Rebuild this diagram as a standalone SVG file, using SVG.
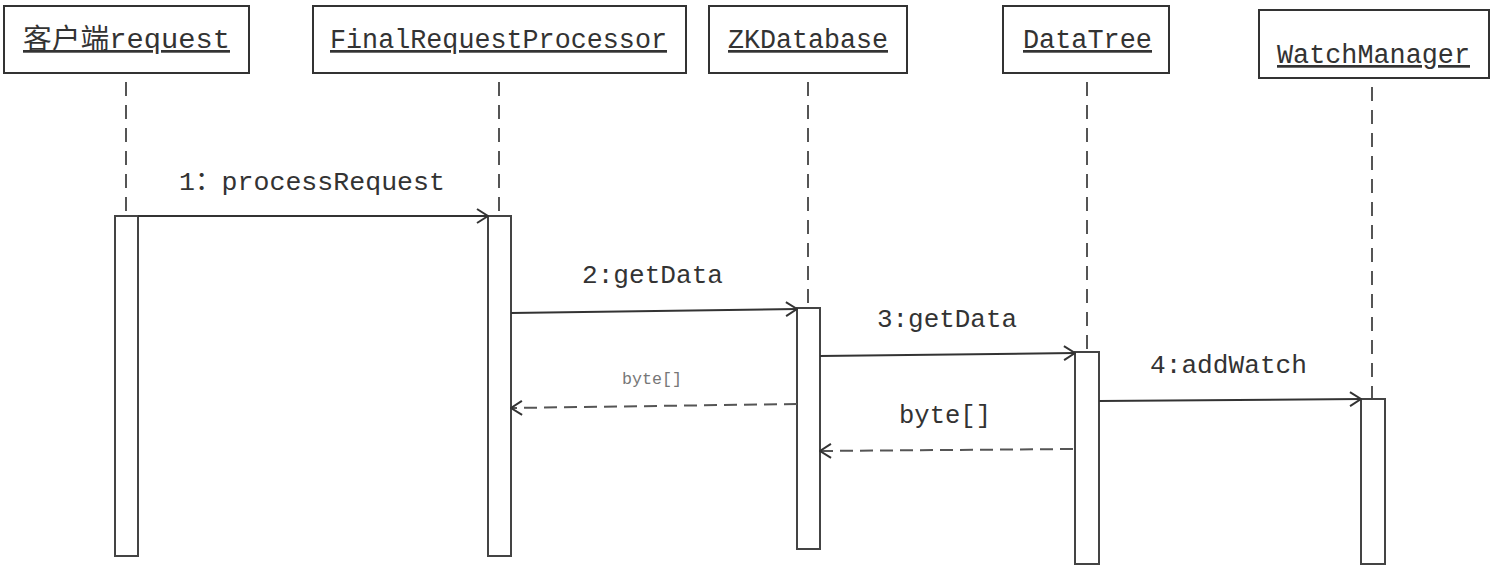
<svg xmlns="http://www.w3.org/2000/svg" width="1496" height="578" viewBox="0 0 1496 578">
<style>
  .box{fill:#fff;stroke:#333;stroke-width:2}
  .act{fill:#fff;stroke:#444;stroke-width:2}
  .life{stroke:#555;stroke-width:2;stroke-dasharray:14 9;stroke-dashoffset:14;fill:none}
  .lbl{font-family:"Liberation Mono","Noto Sans CJK SC",monospace;font-size:27px;fill:#333;text-decoration:underline}
  .msg{stroke:#333;stroke-width:2;fill:none;marker-end:url(#arr)}
  .ret{stroke:#555;stroke-width:2;fill:none;stroke-dasharray:13 7;marker-end:url(#arr)}
  .mt{font-family:"Liberation Mono","Noto Sans CJK SC",monospace;font-size:26px;fill:#333}
  .st{font-family:"Liberation Mono","Noto Sans CJK SC",monospace;font-size:16px;fill:#777}
</style>
<defs>
  <marker id="arr" markerUnits="userSpaceOnUse" viewBox="0 0 14 16" refX="13" refY="8" markerWidth="14" markerHeight="16" orient="auto">
    <path d="M2,1 L13,8 L2,15" fill="none" stroke="#333" stroke-width="2"/>
  </marker>
</defs>
<rect width="1496" height="578" fill="#fff"/>
<g id="node-client">
  <rect class="box" x="4" y="6" width="245" height="67"/>
  <text class="lbl" x="23" y="48" textLength="207" lengthAdjust="spacingAndGlyphs">客户端request</text>
  <line class="life" x1="126" y1="73" x2="126" y2="216"/>
  <rect class="act" x="115" y="216" width="23" height="340"/>
</g>
<g id="node-finalrequestprocessor">
  <rect class="box" x="313" y="6" width="373" height="67"/>
  <text class="lbl" x="330" y="48" textLength="337" lengthAdjust="spacingAndGlyphs">FinalRequestProcessor</text>
  <line class="life" x1="499" y1="73" x2="499" y2="216"/>
  <rect class="act" x="488" y="216" width="23" height="340"/>
</g>
<g id="node-zkdatabase">
  <rect class="box" x="709" y="6" width="198" height="67"/>
  <text class="lbl" x="728" y="48" textLength="160" lengthAdjust="spacingAndGlyphs">ZKDatabase</text>
  <line class="life" x1="808" y1="73" x2="808" y2="308"/>
  <rect class="act" x="797" y="308" width="23" height="241"/>
</g>
<g id="node-datatree">
  <rect class="box" x="1003" y="6" width="166" height="67"/>
  <text class="lbl" x="1023" y="48" textLength="129" lengthAdjust="spacingAndGlyphs">DataTree</text>
  <line class="life" x1="1087" y1="73" x2="1087" y2="352"/>
  <rect class="act" x="1075" y="352" width="24" height="212"/>
</g>
<g id="node-watchmanager">
  <rect class="box" x="1259" y="10" width="230" height="68"/>
  <text class="lbl" x="1277" y="63" textLength="193" lengthAdjust="spacingAndGlyphs">WatchManager</text>
  <line class="life" x1="1372" y1="78" x2="1372" y2="399"/>
  <rect class="act" x="1361" y="399" width="24" height="165"/>
</g>
<g id="connectors">
  <line class="msg" x1="138" y1="216" x2="488" y2="216"/>
  <text class="mt" x="179" y="190" textLength="266" lengthAdjust="spacingAndGlyphs">1：processRequest</text>
  <line class="msg" x1="511" y1="313" x2="797" y2="309"/>
  <text class="mt" x="582" y="283" textLength="141" lengthAdjust="spacingAndGlyphs">2:getData</text>
  <line class="ret" x1="797" y1="404" x2="511" y2="408"/>
  <text class="st" x="622" y="384" textLength="60" lengthAdjust="spacingAndGlyphs">byte[]</text>
  <line class="msg" x1="820" y1="356" x2="1075" y2="353"/>
  <text class="mt" x="877" y="327" textLength="140" lengthAdjust="spacingAndGlyphs">3:getData</text>
  <line class="ret" x1="1073" y1="449" x2="820" y2="451"/>
  <text class="mt" x="899" y="423" textLength="92" lengthAdjust="spacingAndGlyphs">byte[]</text>
  <line class="msg" x1="1099" y1="401" x2="1361" y2="399"/>
  <text class="mt" x="1150" y="373" textLength="157" lengthAdjust="spacingAndGlyphs">4:addWatch</text>
</g>
</svg>
